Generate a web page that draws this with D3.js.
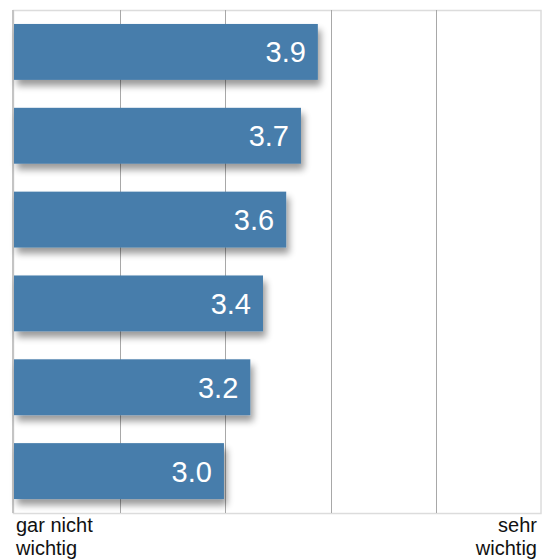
<!DOCTYPE html>
<html>
<head>
<meta charset="utf-8">
<script src="https://cdn.jsdelivr.net/npm/d3@7"></script>
<style>
  body { margin: 0; background: #fff; }
  svg { display: block; font-family: "Liberation Sans", Arial, sans-serif; }
</style>
</head>
<body>
<svg class="mainsvg" width="545" height="560"></svg>
<script>
var items = ["a", "b", "c", "d", "e", "f"];
var values = [3.88, 3.72, 3.58, 3.36, 3.24, 2.99];
var valueLabels = ["3.9", "3.7", "3.6", "3.4", "3.2", "3.0"];
var ticks = [1, 2, 3, 4, 5, 6];
var endLabels = [["gar nicht", "wichtig"], ["sehr", "wichtig"]];

var svg = d3.select(".mainsvg");
var plotLeft = 14, plotRight = 541.5, plotTop = 10, plotBottom = 513;

var x = d3.scaleLinear().domain([1, 6]).range([plotLeft, plotRight]);
var y = d3.scaleBand().domain(items).range([plotTop, plotBottom])
    .paddingInner(1 / 3).paddingOuter(1 / 6);

// drop shadow under the bars
var f = svg.append("defs").append("filter")
    .attr("id", "shadow")
    .attr("x", "-10%").attr("y", "-30%")
    .attr("width", "130%").attr("height", "190%");
f.append("feGaussianBlur").attr("in", "SourceAlpha").attr("stdDeviation", 3.5);
f.append("feOffset").attr("dx", 3).attr("dy", 6).attr("result", "off");
f.append("feComponentTransfer").append("feFuncA").attr("type", "linear").attr("slope", 0.4);
var m = f.append("feMerge");
m.append("feMergeNode");
m.append("feMergeNode").attr("in", "SourceGraphic");

// frame
svg.append("rect")
    .attr("x", plotLeft - 0.5).attr("y", plotTop + 0.5)
    .attr("width", plotRight - plotLeft).attr("height", plotBottom - plotTop)
    .attr("fill", "none").attr("stroke", "#dcdcdc").attr("stroke-width", 1.5);

svg.selectAll(".grid")
    .data(ticks.slice(0, 5))
    .enter().append("line")
    .attr("class", "grid")
    .attr("x1", function (d) { return d === 1 ? x(d) - 1 : Math.round(x(d)) + 0.5; })
    .attr("x2", function (d) { return d === 1 ? x(d) - 1 : Math.round(x(d)) + 0.5; })
    .attr("y1", plotTop).attr("y2", plotBottom)
    .attr("stroke", function (d) { return d === 1 ? "#c4c4c4" : "#a8a8a8"; })
    .attr("stroke-width", function (d) { return d === 1 ? 2 : 1; });

svg.selectAll(".bar")
    .data(values)
    .enter().append("rect")
    .attr("class", "bar")
    .attr("x", x(1))
    .attr("y", function (d, i) { return y(items[i]); })
    .attr("width", function (d) { return x(d) - x(1); })
    .attr("height", y.bandwidth())
    .attr("fill", "#467dab")
    .attr("filter", "url(#shadow)");

svg.selectAll(".val")
    .data(values)
    .enter().append("text")
    .attr("class", "val")
    .attr("x", function (d) { return x(d) - 12; })
    .attr("y", function (d, i) { return y(items[i]) + y.bandwidth() / 2 + 10.5; })
    .attr("text-anchor", "end")
    .attr("fill", "#fff")
    .attr("font-size", 29)
    .text(function (d, i) { return valueLabels[i]; });

var lt = svg.append("text").attr("font-size", 20).attr("fill", "#111");
endLabels[0].forEach(function (s, i) {
    lt.append("tspan").attr("x", 16).attr("y", 532 + i * 23).text(s);
});
var rt = svg.append("text").attr("font-size", 20).attr("fill", "#111").attr("text-anchor", "end");
endLabels[1].forEach(function (s, i) {
    rt.append("tspan").attr("x", 537).attr("y", 532 + i * 23).text(s);
});
</script>
</body>
</html>
